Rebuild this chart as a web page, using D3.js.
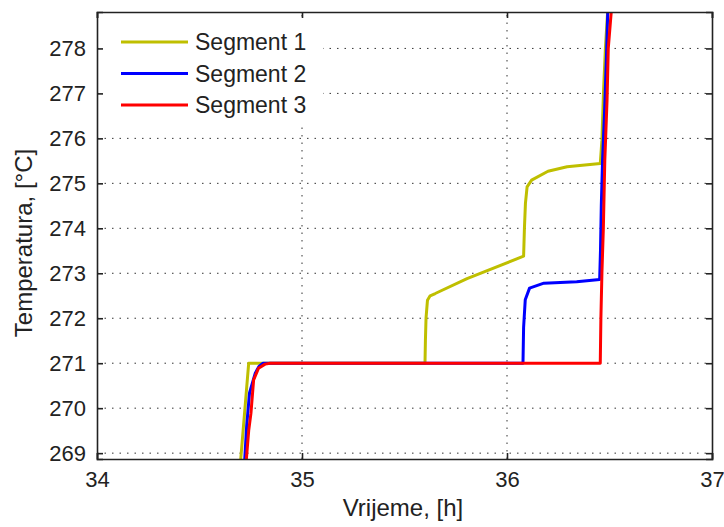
<!DOCTYPE html>
<html>
<head>
<meta charset="utf-8">
<script src="https://cdn.jsdelivr.net/npm/d3@7/dist/d3.min.js"></script>
<style>
  body { margin: 0; background: #fff; }
  text { font-family: Arial, "Liberation Sans", sans-serif; fill: #222; }
</style>
</head>
<body>
<div id="chart"></div>
<script>
(function() {
    "use strict";

    // series data: time [h] and temperature
    const seg1Time = [34.695, 34.70, 34.74, 35.60, 35.602, 35.605, 35.612, 35.625, 35.65, 35.805, 36.081, 36.085, 36.09, 36.098, 36.12, 36.2, 36.293, 36.455, 36.463, 36.471, 36.48, 36.492];
    const seg1Temp = [268.5, 268.8, 271.0, 271.0, 271.5, 272.0, 272.4, 272.5, 272.55, 272.88, 273.38, 274.0, 274.56, 274.92, 275.07, 275.27, 275.37, 275.44, 275.96, 277.07, 278.0, 278.9];

    const seg2Time = [34.716, 34.73, 34.744, 34.772, 34.79, 34.81, 36.078, 36.081, 36.089, 36.11, 36.18, 36.34, 36.452, 36.456, 36.46, 36.466, 36.476, 36.485, 36.492];
    const seg2Temp = [268.5, 269.6, 270.34, 270.78, 270.93, 271.0, 271.0, 271.8, 272.41, 272.67, 272.78, 272.81, 272.86, 273.5, 274.5, 275.5, 276.6, 277.8, 278.9];

    const seg3Time = [34.722, 34.74, 34.751, 34.764, 34.788, 34.82, 34.845, 36.455, 36.458, 36.463, 36.47, 36.477, 36.488, 36.494, 36.51];
    const seg3Temp = [268.5, 269.5, 269.89, 270.63, 270.89, 270.98, 271.0, 271.0, 272.0, 273.0, 274.0, 275.5, 276.85, 278.0, 278.9];

    const seriesNames = ["Segment 1", "Segment 2", "Segment 3"];
    const seriesColors = ["#bfbf00", "#0000ff", "#ff0000"];

    const xTicks = [34, 35, 36, 37];
    const yTicks = [269, 270, 271, 272, 273, 274, 275, 276, 277, 278];
    const xDomain = [34, 37];
    const yDomain = [268.87, 278.81];

    const width = 724, height = 527;
    const margin = {top: 12, right: 12, bottom: 68, left: 97};

    const svg = d3.select("#chart").append("svg")
        .attr("width", width).attr("height", height);

    const x = d3.scaleLinear().domain(xDomain).range([margin.left, width - margin.right]);
    const y = d3.scaleLinear().domain(yDomain).range([height - margin.bottom, margin.top]);

    svg.append("clipPath").attr("id", "plotclip")
      .append("rect")
        .attr("x", margin.left).attr("y", margin.top)
        .attr("width", x.range()[1] - margin.left)
        .attr("height", y.range()[0] - margin.top);

    // dotted grid
    const grid = svg.append("g").attr("stroke", "#333").attr("stroke-width", 1).attr("stroke-dasharray", "1.5,6");
    grid.selectAll(".gx").data(xTicks.slice(1, -1)).enter().append("line")
        .attr("x1", d => x(d)).attr("x2", d => x(d))
        .attr("y1", y.range()[0]).attr("y2", y.range()[1]);
    grid.selectAll(".gy").data(yTicks).enter().append("line")
        .attr("x1", x.range()[0]).attr("x2", x.range()[1])
        .attr("y1", d => y(d)).attr("y2", d => y(d));

    // lines
    const series = [
        seg1Time.map((t, i) => [t, seg1Temp[i]]),
        seg2Time.map((t, i) => [t, seg2Temp[i]]),
        seg3Time.map((t, i) => [t, seg3Temp[i]])
    ];
    const line = d3.line().x(d => x(d[0])).y(d => y(d[1]));
    svg.append("g").attr("clip-path", "url(#plotclip)")
      .selectAll("path").data(series).enter().append("path")
        .attr("d", line)
        .attr("fill", "none")
        .attr("stroke", (d, i) => seriesColors[i])
        .attr("stroke-width", 3)
        .attr("stroke-linejoin", "round");

    // axes (ticks inside, box on all sides)
    const tickLen = 6;
    const xb = svg.append("g").attr("transform", `translate(0,${y.range()[0]})`)
        .call(d3.axisBottom(x).tickValues(xTicks).tickSize(-tickLen).tickPadding(12).tickFormat(d3.format("d")));
    const xt = svg.append("g").attr("transform", `translate(0,${margin.top})`)
        .call(d3.axisTop(x).tickValues(xTicks).tickSize(-tickLen).tickFormat(""));
    const yl = svg.append("g").attr("transform", `translate(${margin.left},0)`)
        .call(d3.axisLeft(y).tickValues(yTicks).tickSize(-tickLen).tickPadding(11).tickFormat(d3.format("d")));
    const yr = svg.append("g").attr("transform", `translate(${x.range()[1]},0)`)
        .call(d3.axisRight(y).tickValues(yTicks).tickSize(-tickLen).tickFormat(""));

    [xb, xt, yl, yr].forEach(g => {
        g.select(".domain").attr("stroke", "#222").attr("stroke-width", 1.6);
        g.selectAll(".tick line").attr("stroke", "#222").attr("stroke-width", 1.6);
        g.selectAll(".tick text").attr("font-size", 22).attr("fill", "#222")
            .attr("font-family", "Arial, 'Liberation Sans', sans-serif");
    });

    // axis titles
    svg.append("text")
        .attr("x", 403).attr("y", 516)
        .attr("text-anchor", "middle").attr("font-size", 24)
        .text("Vrijeme, [h]");
    svg.append("text")
        .attr("transform", "translate(32,243) rotate(-90)")
        .attr("text-anchor", "middle").attr("font-size", 24)
        .text("Temperatura, [°C]");

    // legend, white box with no border
    const legend = svg.append("g");
    legend.append("rect")
        .attr("x", 103).attr("y", 22).attr("width", 220).attr("height", 100)
        .attr("fill", "#fff");
    const item = legend.selectAll(".item").data(seriesNames).enter().append("g")
        .attr("transform", (d, i) => `translate(0,${42 + i * 31.5})`);
    item.append("line")
        .attr("x1", 121).attr("x2", 188)
        .attr("stroke", (d, i) => seriesColors[i]).attr("stroke-width", 3);
    item.append("text")
        .attr("x", 195).attr("dy", "0.35em").attr("font-size", 23)
        .text(d => d);
})();
</script>
</body>
</html>
